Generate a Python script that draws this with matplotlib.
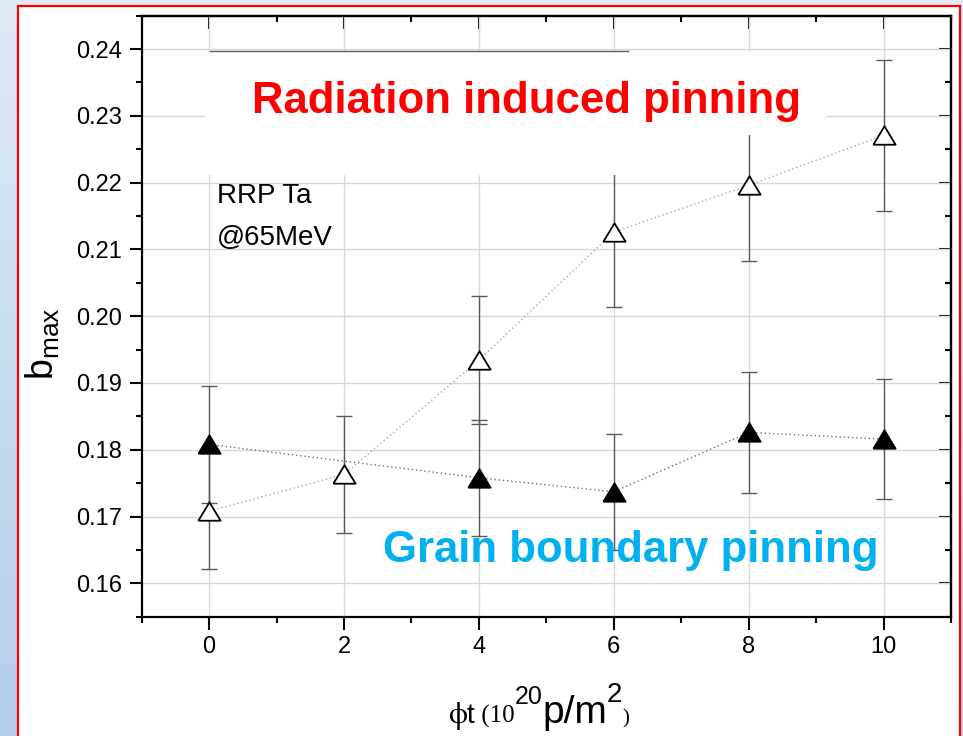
import numpy as np
import matplotlib.pyplot as plt
from matplotlib.patches import Rectangle
from matplotlib.lines import Line2D
from matplotlib.transforms import IdentityTransform
from matplotlib.ticker import MultipleLocator

plt.rcParams['font.family'] = ['Liberation Sans', 'DejaVu Sans']
plt.rcParams['mathtext.fontset'] = 'custom'
plt.rcParams['mathtext.rm'] = 'Liberation Sans'
plt.rcParams['mathtext.it'] = 'Liberation Sans:italic'
plt.rcParams['mathtext.bf'] = 'Liberation Sans:bold'

# fluence (10^20 p/m^2)
fluence = [0, 2, 4, 6, 8, 10]

# b_max, radiation induced pinning (open triangles)
b_rad = [0.1708, 0.1763, 0.1934, 0.2126, 0.2196, 0.2271]
err_rad = [0.0087, 0.0088, 0.0096, 0.0112, 0.0114, 0.0113]

# b_max, grain boundary pinning (filled triangles, no point at 2)
gb_x = [0, 4, 6, 8, 10]
gb_y = [0.1808, 0.1758, 0.1737, 0.1826, 0.1816]
gb_e = [0.0088, 0.0087, 0.0087, 0.0091, 0.0090]

xticks = [0, 2, 4, 6, 8, 10]
yticks = [0.16, 0.17, 0.18, 0.19, 0.20, 0.21, 0.22, 0.23, 0.24]

fig = plt.figure(figsize=(9.63, 7.36), dpi=100)

# slide background: pale blue gradient with a red framed white panel
bg = fig.add_axes([0, 0, 1, 1], zorder=-10)
grad = np.linspace(0, 1, 256).reshape(-1, 1)
top_c = np.array([0.875, 0.918, 0.965])
bot_c = np.array([0.70, 0.808, 0.918])
img = top_c[None, None, :] * (1 - grad[..., None]) + bot_c[None, None, :] * grad[..., None]
bg.imshow(img, aspect='auto', extent=[0, 1, 0, 1], origin='upper')
bg.set_xlim(0, 1)
bg.set_ylim(0, 1)
bg.axis('off')
bg.add_patch(Rectangle((17.5 / 963, -0.02), (960 - 17.5) / 963, 1.02 - 6 / 736,
                       facecolor='white', edgecolor='#ff0000', lw=1.6))

ax = fig.add_axes([141.7 / 963, 1 - 616.7 / 736, 809.3 / 963, 601 / 736])
ax.set_xlim(-1, 11)
ax.set_ylim(0.155, 0.245)
ax.set_xticks(xticks)
ax.set_yticks(yticks)
ax.set_yticklabels(['%.2f' % v for v in yticks])
ax.xaxis.set_minor_locator(MultipleLocator(1))
ax.yaxis.set_minor_locator(MultipleLocator(0.005))
ax.grid(True, which='major', color='#d8d8d8', lw=1.0, zorder=0)
ax.set_axisbelow(True)
for sp in ax.spines.values():
    sp.set_linewidth(1.6)
ax.tick_params(which='major', direction='out', length=9, width=1.5,
               labelsize=17, pad=5, top=False, right=False)
ax.tick_params(which='minor', direction='out', length=4.5, width=1.5,
               top=False, right=False)

# inward ticks along the top and right edges
top = ax.secondary_xaxis('top')
top.set_xticks(xticks)
top.xaxis.set_minor_locator(MultipleLocator(1))
top.set_xticklabels([])
right = ax.secondary_yaxis('right')
right.set_yticks(yticks)
right.yaxis.set_minor_locator(MultipleLocator(0.005))
right.set_yticklabels([])
for sec in (top, right):
    sec.tick_params(which='major', direction='in', length=9, width=1.5)
    sec.tick_params(which='minor', direction='in', length=4.5, width=1.5)
    sec.spines[:].set_linewidth(1.6)

# dotted connecting lines
ax.plot(fluence, b_rad, linestyle=(0, (1, 2)), color='#a8a8a8', lw=1.0, zorder=2)
ax.plot(gb_x, gb_y, linestyle=(0, (1, 2)), color='#707070', lw=1.0, zorder=2)

# error bars
ax.errorbar(fluence, b_rad, yerr=err_rad, fmt='none', ecolor='#5a5a5a',
            elinewidth=1.0, capsize=5.5, capthick=1.0, zorder=3)
ax.errorbar(gb_x, gb_y, yerr=gb_e, fmt='none', ecolor='#5a5a5a',
            elinewidth=1.0, capsize=5.5, capthick=1.0, zorder=3)

tri = [(-1, -0.83), (1, -0.83), (0, 0.83), (-1, -0.83)]
ax.plot(fluence, b_rad, linestyle='none', marker=tri, ms=16, mfc='white',
        mec='black', mew=1.3, zorder=4)
ax.plot(gb_x, gb_y, linestyle='none', marker=tri, ms=16, mfc='black',
        mec='black', mew=1.3, zorder=4)

# white title panels over the upper part of the plot
ax.add_patch(Rectangle((0.078, 0.8015), 0.768, 0.1385, transform=ax.transAxes,
                       facecolor='white', edgecolor='none', zorder=5))
ax.add_patch(Rectangle((0.078, 0.735), 0.534, 0.205, transform=ax.transAxes,
                       facecolor='white', edgecolor='none', zorder=5))
ax.add_line(Line2D([0.0844, 0.601], [0.942, 0.942], transform=ax.transAxes,
                   color='#606060', lw=1.0, zorder=5))

ax.text(0.4749, 0.838, 'Radiation induced pinning', transform=ax.transAxes,
        ha='center', va='baseline', color='#ff0000', fontsize=31.5,
        fontweight='bold', zorder=6)
ax.text(0.6046, 0.091, 'Grain boundary pinning', transform=ax.transAxes,
        ha='center', va='baseline', color='#00b0f0', fontsize=31.5,
        fontweight='bold', zorder=6)

ax.text(0.0927, 0.688, 'RRP Ta', transform=ax.transAxes, ha='left',
        va='baseline', fontsize=20, zorder=6)
ax.text(0.0927, 0.6185, '@65MeV', transform=ax.transAxes, ha='left',
        va='baseline', fontsize=20, zorder=6)

ax.set_ylabel(r'b$_{\mathrm{max}}$', fontsize=27)
ax.yaxis.set_label_coords(-0.0985, 0.455)

# x label built from pieces of different fonts and sizes
pieces = [
    ('\u03d5', 22, {'family': 'STIXGeneral'}, 0),
    ('t', 20, {}, 0),
    (' (10', 18, {'family': 'Liberation Serif'}, 0),
    ('20', 18, {}, 19),
    ('p/m', 28, {}, 0),
    ('2', 20, {}, 21),
    (')', 15, {'family': 'Liberation Serif'}, 0),
]
fig.canvas.draw()
renderer = fig.canvas.get_renderer()
x = 448.0
base = 736 - 723.0
for s, size, kw, dy in pieces:
    t = fig.text(x, base + dy, s, transform=IdentityTransform(), ha='left',
                 va='baseline', fontsize=size, **kw)
    x += t.get_window_extent(renderer).width

fig.savefig('out.png', dpi=100)
